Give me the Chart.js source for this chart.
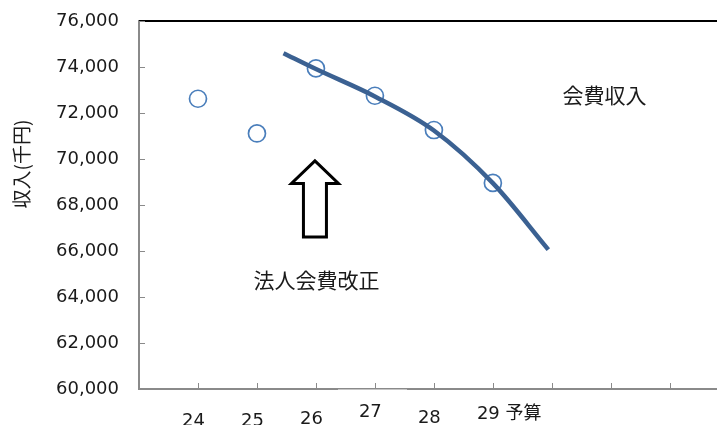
<!DOCTYPE html>
<html>
<head>
<meta charset="utf-8">
<script src="https://cdn.jsdelivr.net/npm/chart.js@4"></script>
<style>
    html, body { margin: 0; padding: 0; background: #ffffff; overflow: hidden; }
    #wrap { width: 717px; height: 425px; }
</style>
</head>
<body>
<div id="wrap"><canvas id="incomeChart" width="717" height="425"></canvas></div>
<script>
// 年度と会費収入(千円)
const years = [24, 25, 26, 27, 28, 29];
const yearLabels = ["24", "25", "26", "27", "28", "29 予算"];
const income = [72620, 71110, 73940, 72750, 71260, 68960];

// 近似曲線
const trendYears = [25.45, 26, 27, 28, 29, 29.94];
const trendIncome = [74600, 73910, 72720, 71240, 68950, 66060];

const yTicks = [60000, 62000, 64000, 66000, 68000, 70000, 72000, 74000, 76000];

const jpFont = "'Noto Sans CJK JP', sans-serif";
const numFont = "'DejaVu Sans', sans-serif";
const axisGray = "#8a8a8a";

// ラベルの縦位置 (元図では年ごとにずれている)
const labelShift = [32, 32, 30, 23, 29, 25];

const decorPlugin = {
    id: "decor",
    afterDraw(chart) {
        const ctx = chart.ctx;
        const area = chart.chartArea;
        const xs = chart.scales.x;
        const ys = chart.scales.y;
        ctx.save();

        // 上の枠線
        ctx.strokeStyle = "#000000";
        ctx.lineWidth = 2;
        ctx.beginPath();
        ctx.moveTo(area.left, area.top);
        ctx.lineTo(area.right, area.top);
        ctx.stroke();

        // 目盛り (内向き)
        ctx.strokeStyle = axisGray;
        ctx.lineWidth = 1;
        yTicks.forEach(v => {
            const py = Math.round(ys.getPixelForValue(v)) + 0.5;
            ctx.beginPath();
            ctx.moveTo(area.left, py);
            ctx.lineTo(area.left + 6, py);
            ctx.stroke();
        });
        for (let v = 24; v <= 32; v++) {
            const px = Math.round(xs.getPixelForValue(v)) + 0.5;
            ctx.beginPath();
            ctx.moveTo(px, area.bottom);
            ctx.lineTo(px, area.bottom - 6);
            ctx.stroke();
        }

        // 横軸の一部が白く隠れている
        ctx.fillStyle = "#ffffff";
        ctx.fillRect(338, area.bottom + 0.5, 69, 2);

        // 年度ラベル
        ctx.fillStyle = "#1a1a1a";
        ctx.textAlign = "left";
        ctx.textBaseline = "middle";
        years.forEach((yr, i) => {
            const px = xs.getPixelForValue(yr) - 16;
            const parts = yearLabels[i].split(" ");
            ctx.font = "18px " + numFont;
            ctx.fillText(parts[0], px, area.bottom + labelShift[i]);
            if (parts[1]) {
                const w = ctx.measureText(parts[0] + " ").width;
                ctx.font = "18px " + jpFont;
                ctx.fillText(parts[1], px + w, area.bottom + labelShift[i] - 2);
            }
        });

        // 縦軸タイトル
        ctx.save();
        ctx.translate(22, 164);
        ctx.rotate(-Math.PI / 2);
        ctx.font = "19px " + jpFont;
        ctx.textAlign = "center";
        ctx.textBaseline = "middle";
        ctx.fillText("収入(千円)", 0, 0);
        ctx.restore();

        // 注記
        ctx.font = "21px " + jpFont;
        ctx.textAlign = "left";
        ctx.textBaseline = "middle";
        ctx.fillText("会費収入", xs.getPixelForValue(30.18), ys.getPixelForValue(72780));
        ctx.fillText("法人会費改正", xs.getPixelForValue(24.94), ys.getPixelForValue(64730));

        // 矢印
        const ax = xs.getPixelForValue(26) - 1;
        const tipY = ys.getPixelForValue(69920);
        const headY = ys.getPixelForValue(68940);
        const baseY = ys.getPixelForValue(66610);
        ctx.beginPath();
        ctx.moveTo(ax, tipY);
        ctx.lineTo(ax + 23.5, headY);
        ctx.lineTo(ax + 11.5, headY);
        ctx.lineTo(ax + 11.5, baseY);
        ctx.lineTo(ax - 11.5, baseY);
        ctx.lineTo(ax - 11.5, headY);
        ctx.lineTo(ax - 23.5, headY);
        ctx.closePath();
        ctx.fillStyle = "#ffffff";
        ctx.fill();
        ctx.strokeStyle = "#000000";
        ctx.lineWidth = 3;
        ctx.lineJoin = "miter";
        ctx.stroke();

        ctx.restore();
    }
};

new Chart(document.getElementById("incomeChart").getContext("2d"), {
    type: "scatter",
    data: {
        datasets: [
            {
                label: "近似曲線",
                data: trendYears.map((x, i) => ({ x: x, y: trendIncome[i] })),
                showLine: true,
                borderColor: "#3b6192",
                borderWidth: 4.5,
                pointRadius: 0,
                tension: 0.4,
                cubicInterpolationMode: "monotone",
                order: 0
            },
            {
                label: "会費収入",
                data: years.map((x, i) => ({ x: x, y: income[i] })),
                pointStyle: "circle",
                pointRadius: 8.5,
                pointBorderWidth: 1.7,
                borderColor: "#4a7ebb",
                backgroundColor: "rgba(0,0,0,0)",
                order: 1
            }
        ]
    },
    options: {
        responsive: false,
        animation: false,
        layout: { autoPadding: false, padding: { top: 21, right: 0, bottom: 0, left: 0 } },
        plugins: {
            legend: { display: false },
            tooltip: { enabled: false }
        },
        scales: {
            x: {
                type: "linear",
                min: 23,
                max: 32.8,
                ticks: { display: false, stepSize: 1 },
                grid: { display: false, drawTicks: false },
                border: { display: true, color: axisGray, width: 2 },
                afterFit: s => {
                    s.height = 36;
                    s.paddingLeft = 0;
                    s.paddingRight = 0;
                }
            },
            y: {
                min: 60000,
                max: 76000,
                ticks: {
                    stepSize: 2000,
                    padding: 20,
                    color: "#1a1a1a",
                    font: { family: numFont, size: 18 },
                    callback: v => v.toLocaleString("en-US")
                },
                grid: { display: false, drawTicks: false },
                border: { display: true, color: axisGray, width: 2 },
                afterFit: s => {
                    s.width = 139;
                    s.paddingTop = 0;
                    s.paddingBottom = 0;
                }
            }
        }
    },
    plugins: [decorPlugin]
});
</script>
</body>
</html>
